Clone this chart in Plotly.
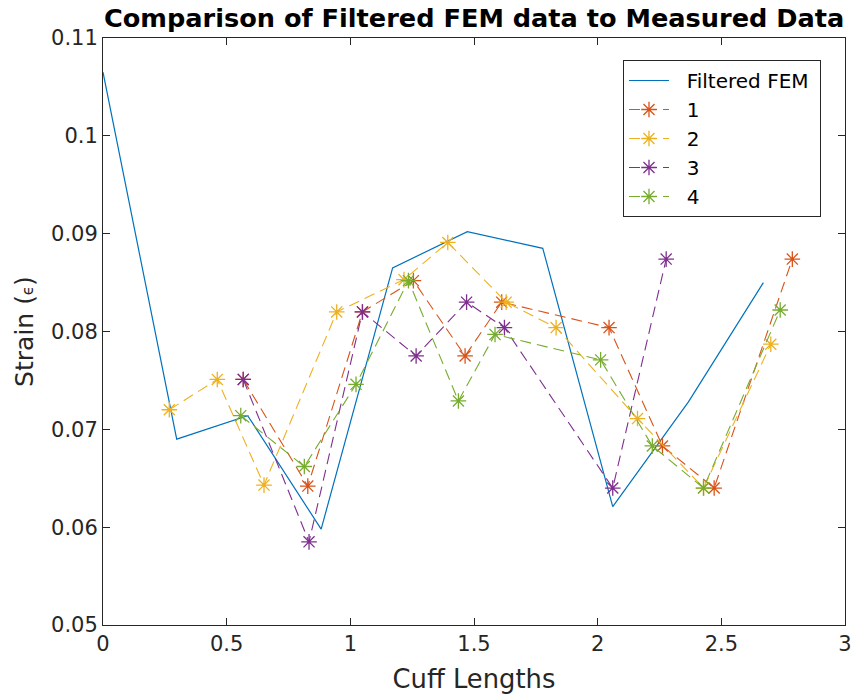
import plotly.graph_objects as go

fem_x = [0.0, 0.298, 0.585, 0.882, 1.171, 1.473, 1.778, 2.061, 2.367, 2.670]
fem_y = [0.1065, 0.0690, 0.0714, 0.0598, 0.0865, 0.0902, 0.0885, 0.0621, 0.0728, 0.0850]

s1_x = [0.567, 0.828, 1.049, 1.255, 1.464, 1.612, 2.046, 2.262, 2.471, 2.787]
s1_y = [0.0751, 0.0642, 0.0820, 0.0852, 0.0775, 0.0830, 0.0804, 0.0683, 0.0640, 0.0874]

s2_x = [0.268, 0.462, 0.651, 0.945, 1.217, 1.394, 1.630, 1.832, 2.161, 2.428, 2.700]
s2_y = [0.0720, 0.0751, 0.0643, 0.0820, 0.0853, 0.0891, 0.0830, 0.0804, 0.0711, 0.0640, 0.0787]

s3_x = [0.567, 0.833, 1.049, 1.266, 1.470, 1.623, 2.061, 2.277]
s3_y = [0.0751, 0.0585, 0.0820, 0.0775, 0.0830, 0.0804, 0.0640, 0.0874]

s4_x = [0.557, 0.814, 1.023, 1.235, 1.437, 1.585, 2.012, 2.221, 2.428, 2.738]
s4_y = [0.0714, 0.0662, 0.0746, 0.0852, 0.0729, 0.0797, 0.0771, 0.0683, 0.0640, 0.0822]

x_ticks = [0, 0.5, 1, 1.5, 2, 2.5, 3]
x_ticktext = ["0", "0.5", "1", "1.5", "2", "2.5", "3"]
y_ticks = [0.05, 0.06, 0.07, 0.08, 0.09, 0.1, 0.11]
y_ticktext = ["0.05", "0.06", "0.07", "0.08", "0.09", "0.1", "0.11"]

series = [
    ("1", s1_x, s1_y, "#D95319"),
    ("2", s2_x, s2_y, "#EDB120"),
    ("3", s3_x, s3_y, "#7E2F8E"),
    ("4", s4_x, s4_y, "#77AC30"),
]

pad = "\u00a0\u00a0"

fig = go.Figure()
fig.add_trace(go.Scatter(x=fem_x, y=fem_y, mode="lines", name=pad + "Filtered FEM\u00a0",
                         line=dict(color="#0072BD", width=1.2)))
for name, xs, ys, c in series:
    fig.add_trace(go.Scatter(x=xs, y=ys, mode="lines+markers", name=pad + name,
                             line=dict(color=c, width=1.1, dash="11px,6px"),
                             marker=dict(symbol="asterisk-open", size=13,
                                         line=dict(color=c, width=1.3))))

font = "DejaVu Sans, sans-serif"
fig.update_layout(
    width=852, height=696,
    margin=dict(l=103, r=7, t=38, b=71, autoexpand=False),
    paper_bgcolor="white", plot_bgcolor="white",
    font=dict(family=font, size=21, color="#262626"),
    title=dict(text="<b>Comparison of Filtered FEM data to Measured Data</b>",
               x=0.5565, xanchor="center", y=0.974, yanchor="middle",
               font=dict(size=25.6, color="black", family=font)),
    showlegend=True,
    legend=dict(x=0.7008, y=0.9625, xanchor="left", yanchor="top",
                bordercolor="#262626", borderwidth=1, bgcolor="white",
                font=dict(size=20, color="black"), tracegroupgap=0,
                itemwidth=40),
)
fig.update_xaxes(range=[0, 3], tickvals=x_ticks, ticktext=x_ticktext,
                 showgrid=False, zeroline=False, showline=True, linecolor="#262626",
                 linewidth=1, mirror="ticks", ticks="inside", ticklen=7,
                 tickcolor="#262626", automargin=False,
                 title=dict(text="Cuff Lengths", font=dict(size=25.8), standoff=14))
fig.update_yaxes(range=[0.05, 0.11], tickvals=y_ticks, ticktext=y_ticktext,
                 showgrid=False, zeroline=False, showline=True, linecolor="#262626",
                 linewidth=1, mirror="ticks", ticks="inside", ticklen=7,
                 tickcolor="#262626", automargin=False,
                 title=dict(text="Strain (<span style='font-size:15px'>ϵ</span>)",
                            font=dict(size=25), standoff=10))
fig.write_html("out.html")
